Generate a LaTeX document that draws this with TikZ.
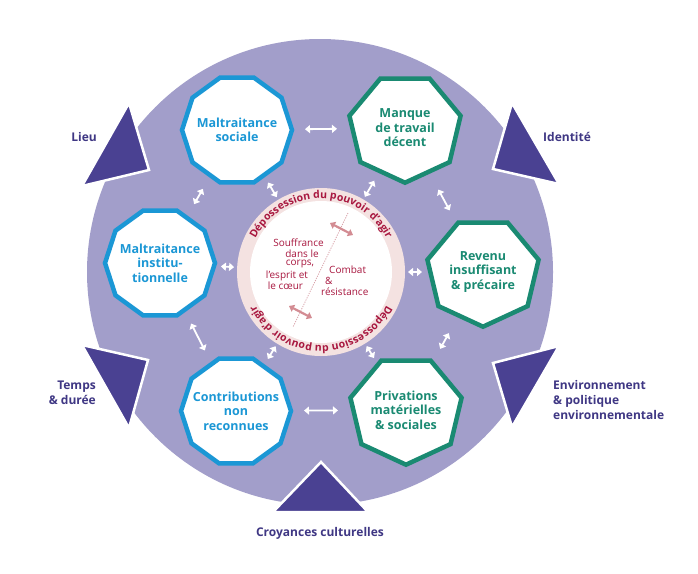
\documentclass[tikz,border=0pt]{standalone}
\usepackage{fontspec}
\setmainfont{Open Sans}
\usetikzlibrary{arrows.meta,decorations.text,calc}
\definecolor{lav}{HTML}{A29ECA}
\definecolor{indig}{HTML}{4A4192}
\definecolor{labind}{HTML}{3F3784}
\definecolor{bluebox}{HTML}{1B97D5}
\definecolor{greenbox}{HTML}{1A8A72}
\definecolor{crim}{HTML}{A8173F}
\definecolor{ringpink}{HTML}{F4E2E1}
\definecolor{arrpink}{HTML}{D38C93}
\definecolor{dotpink}{HTML}{D9A3AA}
\tikzset{
 tri/.style={fill=indig, draw=white, line width=2.5pt, line join=miter},
 outlab/.style={text=labind, font=\fontsize{12}{15}\selectfont\bfseries, inner sep=0pt},
 boxtext/.style={font=\fontsize{12.5}{14.5}\selectfont\bfseries, align=center, inner sep=0pt},
 bluetext/.style={boxtext, text=bluebox},
 greentext/.style={boxtext, text=greenbox},
 bluepoly/.style={draw=bluebox, fill=white, line width=4.5pt},
 greenpoly/.style={draw=greenbox, fill=white, line width=4.5pt},
 whitearrow/.style={draw=white, line width=1.8pt, {Triangle[width=8pt,length=5pt]}-{Triangle[width=8pt,length=5pt]}},
 pinkarrow/.style={draw=arrpink, line width=2.2pt, {Triangle[width=7.5pt,length=5pt]}-{Triangle[width=7.5pt,length=5pt]}},
 midtext/.style={text=crim, font=\fontsize{10}{11}\selectfont, inner sep=0pt},
 ringtext/.style={decorate, decoration={text along path, text align=center, text={|\fontsize{10.5}{10.5}\selectfont\bfseries\color{crim}|Dépossession du pouvoir d’agir}}},
}
\begin{document}
\begin{tikzpicture}[x=1pt,y=-1pt]
\useasboundingbox (0,0) rectangle (698,573);
\fill[white] (0,0) rectangle (698,573);
\fill[lav] (320,272) circle[radius=233pt];
% triangles
\filldraw[tri] (129,103) -- (82,186) -- (149,170) -- cycle;
\filldraw[tri] (512,103) -- (493,169) -- (559,184) -- cycle;
\filldraw[tri] (82,345) -- (148,360) -- (129,428) -- cycle;
\filldraw[tri] (559,346) -- (493,363) -- (512,427) -- cycle;
\filldraw[tri] (321,462) -- (273,512) -- (368,512) -- cycle;
% centres
\coordinate (core) at (321,272);
\coordinate (csoc) at (237,130);
\coordinate (cman) at (405,128);
\coordinate (crev) at (483,272);
\coordinate (cpri) at (406,410);
\coordinate (ccon) at (236,411);
\coordinate (cins) at (160,263);
% polygons
\foreach \c in {csoc,ccon,cins}{
 \draw[bluepoly, shift={(\c)}] plot[samples at={0,36,...,324}, variable=\a] ({55*cos(\a)},{55*sin(\a)}) -- cycle;
}
\foreach \c in {cman,crev,cpri}{
 \draw[greenpoly, shift={(\c)}] plot[samples at={0,...,6}, variable=\k] ({57*cos(90+\k*360/7)},{54.7*sin(90+\k*360/7)}) -- cycle;
}
% box texts
\node[bluetext] (sociale) at (csoc) {Maltraitance\\sociale};
\node[greentext] (manque) at (cman) {Manque\\de travail\\décent};
\node[greentext] (revenu) at (crev) {Revenu\\insuffisant\\\& précaire};
\node[greentext] (priv) at (cpri) {Privations\\matérielles\\\& sociales};
\node[bluetext] (contrib) at (ccon) {Contributions\\non\\reconnues};
\node[bluetext] (instit) at (cins) {Maltraitance\\institu-\\tionnelle};
% centre ring
\fill[ringpink] (core) circle[radius=84pt];
\fill[white] (core) circle[radius=71pt];
\begin{scope}[y=1pt]
\path[ringtext] (core) ++(175:73.5pt) arc[start angle=175, end angle=5, radius=73.5pt];
\path[ringtext] (core) ++(-5:73.5pt) arc[start angle=-5, end angle=-175, radius=73.5pt];
\end{scope}
\coordinate (d1) at (348,213);
\coordinate (d2) at (293,327);
\draw[dotpink, line width=0.8pt, dash pattern=on 1.2pt off 1.2pt] (d1) -- (d2);
\coordinate (pa1) at (330,223);
\coordinate (pa2) at (353,235);
\coordinate (pb1) at (289,306);
\coordinate (pb2) at (312,318);
\draw[pinkarrow] (pa1) -- (pa2);
\draw[pinkarrow] (pb1) -- (pb2);
\node[midtext] (s1) at (298.5,243) {Souffrance};
\node[midtext] (s2) at (302,254) {dans le};
\node[midtext] (s3) at (300,264) {corps,};
\node[midtext] (s4) at (287,276) {l’esprit et};
\node[midtext] (s5) at (285.5,286) {le cœur};
\node[midtext, anchor=west] (c1) at (329,270) {Combat};
\node[midtext, anchor=west] (c2) at (325,281) {\&};
\node[midtext, anchor=west] (c3) at (321,292) {résistance};
% white arrows between neighbours
\draw[whitearrow, shorten <=68pt, shorten >=68pt] (sociale.center) -- (manque.center);
\draw[whitearrow, shorten <=70pt, shorten >=70pt] (manque.center) -- (revenu.center);
\draw[whitearrow, shorten <=70pt, shorten >=70pt] (revenu.center) -- (priv.center);
\draw[whitearrow, shorten <=68pt, shorten >=68pt] (priv.center) -- (contrib.center);
\draw[whitearrow, shorten <=68pt, shorten >=68pt] (contrib.center) -- (instit.center);
\draw[whitearrow, shorten <=68pt, shorten >=68pt] (instit.center) -- (sociale.center);
% white arrows to the centre
\foreach \n in {sociale,manque,revenu,priv,contrib,instit}{
 \draw[whitearrow, shorten <=61pt, shorten >=87pt] (\n.center) -- (core);
}
% outer labels
\node[outlab, anchor=east] (lieu) at (97,137) {Lieu};
\node[outlab, anchor=west] (ident) at (543,137) {Identité};
\node[outlab, anchor=east, align=right] (temps) at (96,393) {Temps\\\& durée};
\node[outlab, anchor=west, align=left] (env) at (553,400) {Environnement\\\& politique\\environnementale};
\node[outlab] (croy) at (320,533) {Croyances culturelles};
\end{tikzpicture}
\end{document}
